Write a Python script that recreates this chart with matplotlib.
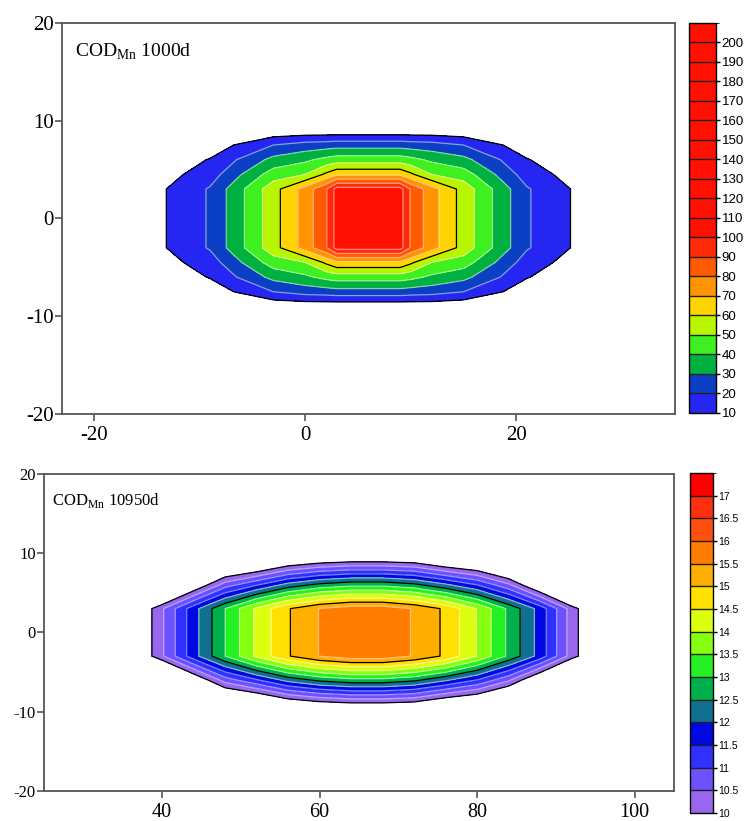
import numpy as np
import matplotlib
matplotlib.use("Agg")
import matplotlib.pyplot as plt
from matplotlib.colors import ListedColormap, BoundaryNorm
from matplotlib.cm import ScalarMappable

plt.rcParams['font.family'] = 'Liberation Serif'
plt.rcParams['mathtext.fontset'] = 'custom'
plt.rcParams['mathtext.rm'] = 'Liberation Serif'
plt.rcParams['axes.unicode_minus'] = False

# ---- CODMn field after 1000 d (upper half, mirrored about y = 0) ----
x_1000 = [-15, -9, -3, 0, 2, 3, 9, 10, 12, 15, 21, 27]
y_1000 = [0, 3, 4.5, 6, 7.5, 9, 10.5]
cod_1000 = [
    [5, 21, 56, 74, 89, 104, 104, 89, 74, 56, 21, 5],      # y = 0
    [5, 21, 56, 74, 89, 104, 104, 89, 74, 56, 21, 5],      # y = 3
    [3, 15, 45, 50, 62, 68, 68, 62, 50, 45, 15, 3],        # y = 4.5
    [0, 10.6, 33, 38, 43, 45, 45, 43, 38, 33, 10.6, 0],    # y = 6
    [0, 4, 20, 24, 25, 26, 26, 25, 24, 20, 4, 0],          # y = 7.5
    [0, 0, 2, 3, 3, 3, 3, 3, 3, 2, 0, 0],                  # y = 9
    [0, 0, 0, 0, 0, 0, 0, 0, 0, 0, 0, 0],                  # y = 10.5
]
levels_1000 = [10, 20, 30, 40, 50, 60, 70, 80, 90, 100, 110, 120, 130, 140,
               150, 160, 170, 180, 190, 200, 210]
ticks_1000 = levels_1000[:-1]
colors_1000 = ['#2626f2', '#0c40c4', '#00b040', '#3ef020', '#b8f500',
               '#ffd400', '#ff9400', '#ff5a00', '#ff2a08'] + ['#ff1000'] * 11

# ---- CODMn field after 10950 d (upper half, mirrored about y = 0) ----
x_10950 = [36, 40, 44, 48, 52, 56, 60, 64, 68, 72, 76, 80, 84, 88, 92, 96]
y_10950 = [0, 3, 6, 9, 12]
cod_10950 = [
    [9.1, 10.43, 11.8, 13.0, 14.1, 14.96, 15.52, 15.8, 15.8, 15.46, 14.9, 13.98, 12.9, 11.8, 10.27, 9.0],
    [9.1, 10.43, 11.8, 13.0, 14.1, 14.96, 15.52, 15.8, 15.8, 15.46, 14.9, 13.98, 12.9, 11.8, 10.27, 9.0],
    [7.0, 7.9, 9.4, 10.75, 11.46, 12.2, 12.64, 12.86, 12.86, 12.63, 12.1, 11.5, 10.6, 9.2, 7.6, 6.0],
    [5.0, 5.5, 7.0, 8.5, 8.8, 9.45, 9.76, 9.91, 9.91, 9.8, 9.3, 9.0, 8.3, 6.6, 5.5, 4.5],
    [0, 0, 0, 0, 0, 0, 0, 0, 0, 0, 0, 0, 0, 0, 0, 0],
]
levels_10950 = [10, 10.5, 11, 11.5, 12, 12.5, 13, 13.5, 14, 14.5, 15, 15.5,
                16, 16.5, 17, 17.5]
ticks_10950 = levels_10950[:-1]
tick_labels_10950 = ['10', '10.5', '11', '11.5', '12', '12.5', '13', '13.5',
                     '14', '14.5', '15', '15.5', '16', '16.5', '17']
colors_10950 = ['#9966f0', '#6e50ff', '#3030ff', '#0008e4', '#107090',
                '#00b04c', '#24f024', '#84ff10', '#dcff10', '#ffe000',
                '#ffae00', '#ff7c00', '#ff5010', '#ff3010', '#ff0000']


def mirrored(xs, ys, rows):
    # build full grid from the typed upper half
    yy = [-v for v in ys[:0:-1]] + list(ys)
    zz = rows[:0:-1] + rows
    X, Y = np.meshgrid(xs, yy)
    return X, Y, np.array(zz, dtype=float)


def panel(ax, cax, xs, ys, rows, levels, colors, black, ticks, ticklabels,
          xlim, xticks, title, tsize, tpos, xfs, yfs, cfs):
    cmap = ListedColormap(colors)
    norm = BoundaryNorm(levels, cmap.N)
    X, Y, Z = mirrored(xs, ys, rows)
    ax.contourf(X, Y, Z, levels=levels, cmap=cmap, norm=norm)
    light = [l for l in levels if l not in black]
    ax.contour(X, Y, Z, levels=light, colors='white', linewidths=0.9, alpha=0.5)
    ax.contour(X, Y, Z, levels=black, colors='black', linewidths=0.9)

    ax.set_xlim(*xlim)
    ax.set_ylim(-20, 20)
    ax.set_xticks(xticks)
    ax.set_yticks([-20, -10, 0, 10, 20])
    ax.tick_params(axis='x', labelsize=xfs, direction='out', length=5,
                   width=1.2, color='#555555')
    ax.tick_params(axis='y', labelsize=yfs, direction='out', length=5,
                   width=1.2, color='#555555', pad=1)
    for s in ax.spines.values():
        s.set_color('#555555')
        s.set_linewidth(1.3)
    ax.text(tpos[0], tpos[1], title, transform=ax.transAxes, fontsize=tsize,
            va='center', ha='left')

    cb = plt.colorbar(ScalarMappable(norm=norm, cmap=cmap), cax=cax,
                      ticks=ticks, drawedges=True)
    cb.ax.set_yticklabels(ticklabels, family='Liberation Sans', fontsize=cfs)
    cb.ax.tick_params(length=3, width=1, pad=1)
    cb.outline.set_linewidth(1.0)
    cb.dividers.set_color('#202020')
    cb.dividers.set_linewidth(1.0)


fig = plt.figure(figsize=(7.52, 8.21), dpi=100)

ax1 = fig.add_axes([0.0824, 0.4957, 0.815, 0.4766])
cax1 = fig.add_axes([0.9162, 0.497, 0.0359, 0.475])
panel(ax1, cax1, x_1000, y_1000, cod_1000, levels_1000, colors_1000,
      [10, 60], ticks_1000, [str(t) for t in ticks_1000],
      (-23, 35), [-20, 0, 20], r'COD$_{\mathrm{Mn}}$ 1000d', 14,
      (0.021, 0.925), 15, 15, 9.5)

ax2 = fig.add_axes([0.0585, 0.0369, 0.8378, 0.3857])
cax2 = fig.add_axes([0.9176, 0.0097, 0.0306, 0.414])
panel(ax2, cax2, x_10950, y_10950, cod_10950, levels_10950, colors_10950,
      [10, 12.5, 15], ticks_10950, tick_labels_10950,
      (25, 105), [40, 60, 80, 100], r'COD$_{\mathrm{Mn}}$ 10950d', 12,
      (0.013, 0.918), 14.5, 12, 7.5)

fig.savefig('out.png', dpi=100)
